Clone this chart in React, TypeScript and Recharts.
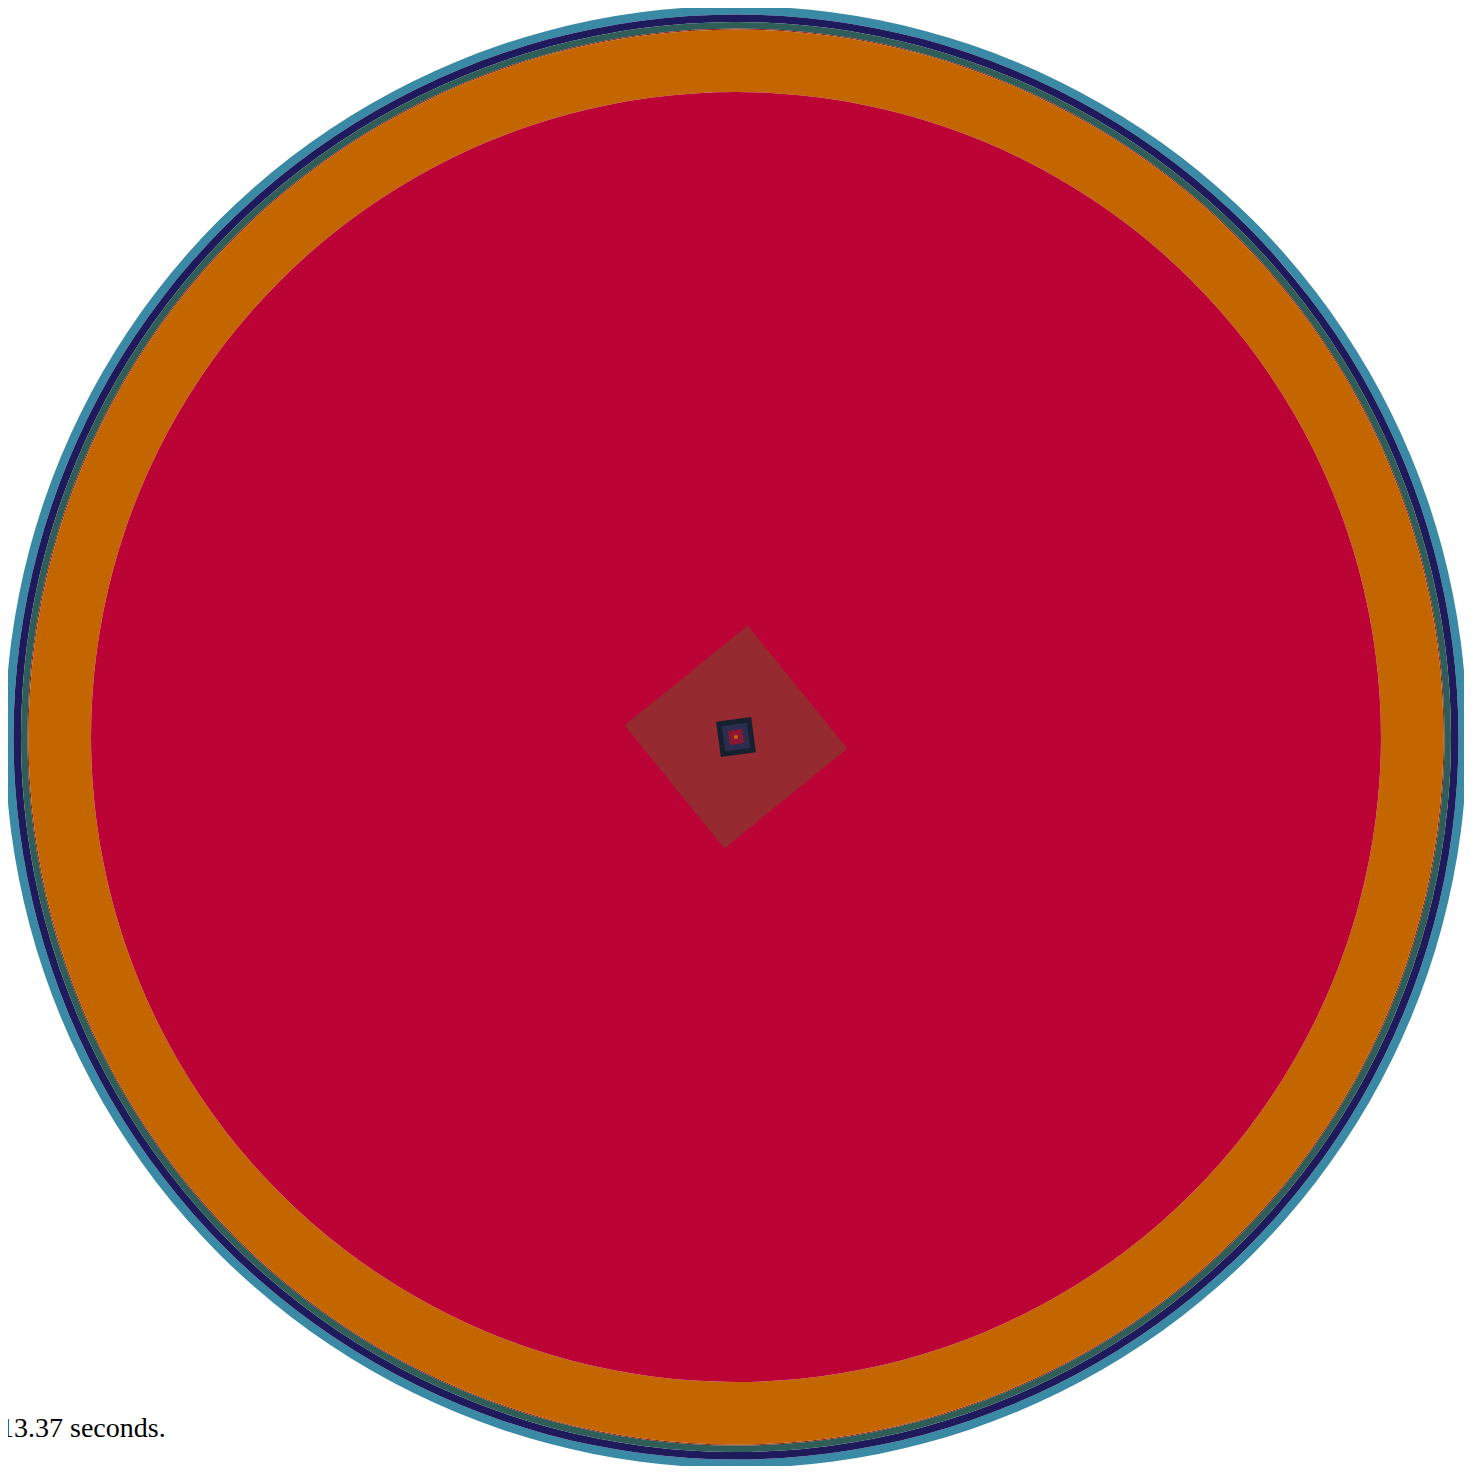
import React from 'react'
import {
  PieChart,
  Pie,
  Cell,
  RadarChart,
  Radar,
  PolarAngleAxis,
  PolarRadiusAxis,
} from 'recharts'

// concentric rings, outer edge -> inner edge (chart units = px of radius)
const ringNames = ['Teal', 'Navy', 'Slate', 'Edge', 'Amber', 'Crimson']
const ringOuter = [731, 722.5, 715, 708.5, 707.5, 645]
const ringInner = [722.5, 715, 708.5, 707.5, 645, 0]
const ringColors = ['#3A8AA6', '#1F1A5B', '#2F5E59', '#7C1E1C', '#C46600', '#BB0435']

// nested squares drawn as four-corner radars
const corners = ['A', 'B', 'C', 'D']
const bigSquare = [112, 112, 112, 112]
const frameSquare = [21.5, 21.5, 21.5, 21.5]
const coreSquare = [10, 10, 10, 10]
const dotSquare = [2.6, 2.6, 2.6, 2.6]

const bigData = corners.map((c, i) => ({ corner: c, big: bigSquare[i] }))
const smallData = corners.map((c, i) => ({
  corner: c,
  frame: frameSquare[i],
  core: coreSquare[i],
  dot: dotSquare[i],
}))

const W = 1456
const H = 1458
const MAX_R = 731

const layer: React.CSSProperties = { position: 'absolute', left: 0, top: 0 }

export default function App() {
  return (
    <div style={{ position: 'relative', width: W, height: H }}>
      <div style={layer}>
        <PieChart width={W} height={H} margin={{ top: 0, right: 0, bottom: 0, left: 0 }}>
          {ringNames.map((name, i) => (
            <Pie
              key={name}
              data={[{ name, value: 1 }]}
              dataKey="value"
              cx="50%"
              cy="50%"
              startAngle={90}
              endAngle={-270}
              innerRadius={ringInner[i]}
              outerRadius={ringOuter[i]}
              stroke="none"
              isAnimationActive={false}
            >
              <Cell fill={ringColors[i]} />
            </Pie>
          ))}
        </PieChart>
      </div>

      <div style={layer}>
        <RadarChart
          width={W}
          height={H}
          data={bigData}
          outerRadius={MAX_R}
          startAngle={84}
          endAngle={-276}
          margin={{ top: 0, right: 0, bottom: 0, left: 0 }}
        >
          <PolarAngleAxis dataKey="corner" tick={false} axisLine={false} />
          <PolarRadiusAxis domain={[0, MAX_R]} tick={false} axisLine={false} />
          <Radar
            dataKey="big"
            fill="#952A31"
            fillOpacity={1}
            stroke="none"
            isAnimationActive={false}
          />
        </RadarChart>
      </div>

      <div style={layer}>
        <RadarChart
          width={W}
          height={H}
          data={smallData}
          outerRadius={MAX_R}
          startAngle={52.7}
          endAngle={-307.3}
          margin={{ top: 0, right: 0, bottom: 0, left: 0 }}
        >
          <PolarAngleAxis dataKey="corner" tick={false} axisLine={false} />
          <PolarRadiusAxis domain={[0, MAX_R]} tick={false} axisLine={false} />
          <Radar
            dataKey="frame"
            fill="#2B2D4E"
            fillOpacity={1}
            stroke="#17202E"
            strokeWidth={5}
            isAnimationActive={false}
          />
          <Radar
            dataKey="core"
            fill="#8C1631"
            fillOpacity={1}
            stroke="none"
            isAnimationActive={false}
          />
          <Radar
            dataKey="dot"
            fill="#C46600"
            fillOpacity={1}
            stroke="none"
            isAnimationActive={false}
          />
        </RadarChart>
      </div>

      <div
        style={{
          position: 'absolute',
          left: -8,
          top: 1406,
          fontFamily: '"Liberation Serif", serif',
          fontSize: 28,
          lineHeight: '28px',
          color: '#000',
          whiteSpace: 'nowrap',
        }}
      >
        13.37 seconds.
      </div>
    </div>
  )
}
